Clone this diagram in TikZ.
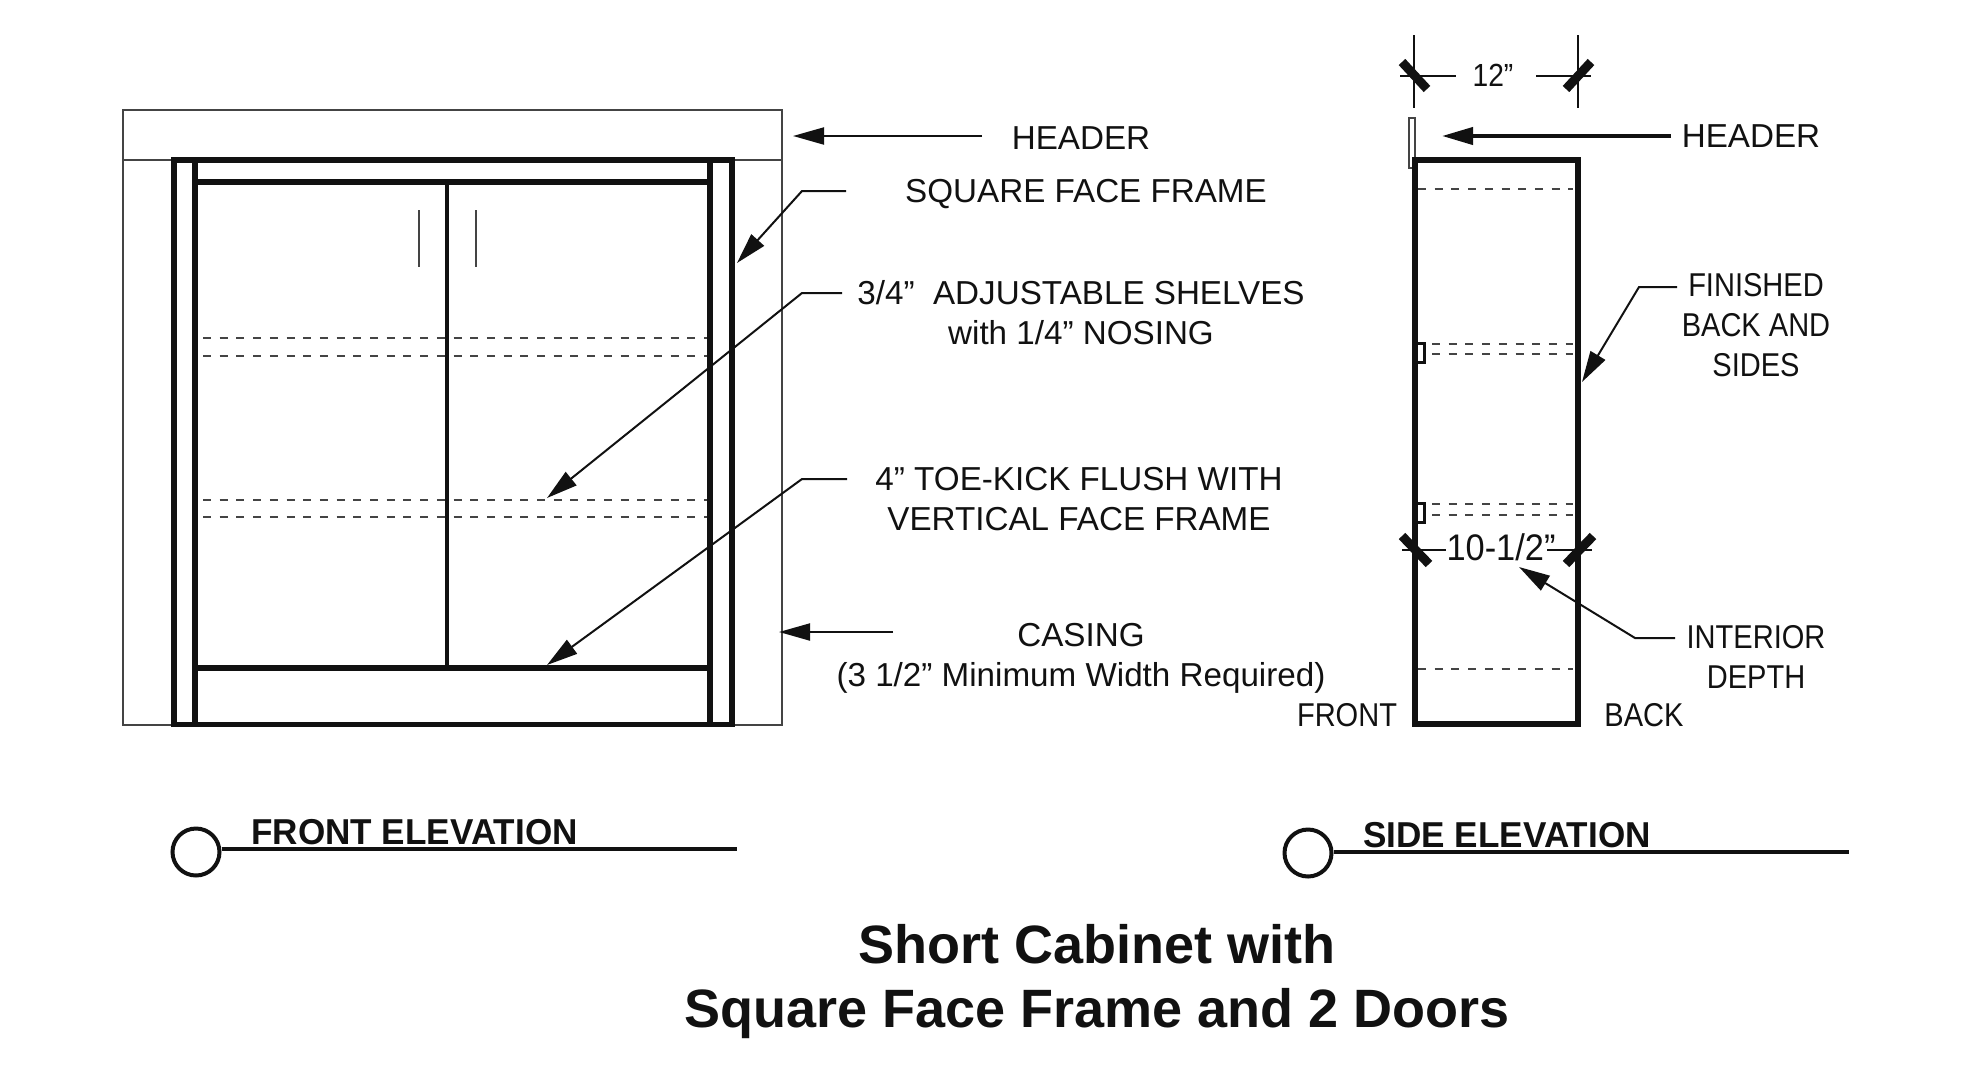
\documentclass[tikz,border=0pt]{standalone}
\usepackage{fontspec}
\setmainfont{Liberation Sans}
\newfontfamily\condfont[FakeStretch=0.88]{Liberation Sans}
\newfontfamily\dimfont[FakeStretch=0.93]{Liberation Sans}
\newfontfamily\viewfont[FakeStretch=0.975]{Liberation Sans}
\usetikzlibrary{arrows.meta}
\definecolor{ink}{HTML}{111111}
\definecolor{thin}{HTML}{444444}
\tikzset{
  wall/.style={draw=ink,line width=6pt,line cap=butt},
  wallb/.style={draw=ink,line width=5pt},
  post/.style={draw=ink,line width=4pt},
  thinline/.style={draw=thin,line width=1.4pt},
  hidden/.style={draw=thin,line width=1.3pt,dash pattern=on 8pt off 8.7pt},
  leader/.style={draw=ink,line width=2pt,-{Triangle[length=31pt,width=17pt]}},
  leaderb/.style={draw=ink,line width=4pt,-{Triangle[length=31pt,width=17pt]}},
  dimline/.style={draw=ink,line width=2.6pt},
  slash/.style={draw=ink,line width=9pt},
  lab/.style={text=ink,inner sep=0pt,align=center,font=\fontsize{33.2}{40}\selectfont},
  labn/.style={text=ink,inner sep=0pt,align=center,font=\condfont\fontsize{33}{40}\selectfont},
  vtitle/.style={text=ink,inner sep=0pt,font=\viewfont\bfseries\fontsize{36}{40}\selectfont},
  bigtitle/.style={text=ink,inner sep=0pt,align=center,font=\bfseries\fontsize{54}{64}\selectfont},
  bubble/.style={circle,draw=ink,line width=4pt,minimum size=47pt,inner sep=0pt},
  notch/.style={draw=ink,line width=3pt,fill=white},
}
\begin{document}
\begin{tikzpicture}[x=1pt,y=-1pt]
\useasboundingbox (0,0) rectangle (1965,1066);
% ---------- front elevation
\draw[thinline] (174,160) -- (123,160) (732,160) -- (782,160);
\draw[thinline] (123,160) -- (123,110) -- (782,110) -- (782,725) -- (123,725) -- cycle;
\draw[hidden] (203,338) -- (707,338);
\draw[hidden] (203,356) -- (707,356);
\draw[hidden] (203,500) -- (707,500);
\draw[hidden] (203,517) -- (707,517);
\draw[thinline] (419,210) -- (419,267) (476,210) -- (476,267);
\draw[wall] (174,157) -- (174,727);
\draw[wall] (195,160) -- (195,727);
\draw[wall] (710,160) -- (710,727);
\draw[wall] (732,157) -- (732,727);
\draw[wall] (171,160) -- (735,160);
\draw[wall] (192,182) -- (713,182);
\draw[wall] (192,668) -- (713,668);
\draw[wallb] (171,724) -- (735,724);
\draw[post] (447,182) -- (447,668);
% front labels
\node[lab] (hdrF) at (1081,138) {HEADER};
\node[lab] (sff) at (1086,194) {SQUARE FACE FRAME};
\node[lab] (shv) at (1081,313) {3/4”\ \ ADJUSTABLE SHELVES\\with 1/4” NOSING};
\node[lab] (toe) at (1079,499) {4” TOE-KICK FLUSH WITH\\VERTICAL FACE FRAME};
\node[lab] (cas) at (1081,658) {CASING\\(3 1/2” Minimum Width Required)};
\coordinate (hdrFa) at (982,136);
\coordinate (hdrFt) at (793,136);
\coordinate (sffa) at (846,191);
\coordinate (sffb) at (802,191);
\coordinate (sfft) at (737,263);
\coordinate (shva) at (842,293);
\coordinate (shvb) at (802,293);
\coordinate (shvt) at (547,498);
\coordinate (toea) at (847,479);
\coordinate (toeb) at (802,479);
\coordinate (toet) at (547,665);
\coordinate (casa) at (893,632);
\coordinate (cast) at (779,632);
\draw[leader] (hdrFa) -- (hdrFt);
\draw[leader] (sffa) -- (sffb) -- (sfft);
\draw[leader] (shva) -- (shvb) -- (shvt);
\draw[leader] (toea) -- (toeb) -- (toet);
\draw[leader] (casa) -- (cast);
% ---------- side elevation
\draw[hidden] (1418,189) -- (1573,189);
\draw[hidden] (1432,344) -- (1573,344);
\draw[hidden] (1432,354) -- (1573,354);
\draw[hidden] (1432,504) -- (1573,504);
\draw[hidden] (1432,515) -- (1573,515);
\draw[hidden] (1418,669) -- (1573,669);
\draw[thinline,fill=white] (1409,118) rectangle (1415,168);
\draw[notch] (1415,343.5) rectangle (1424.5,362.5);
\draw[notch] (1415,503.5) rectangle (1424.5,522.5);
\draw[wall] (1415,157) -- (1415,727);
\draw[wall] (1578,157) -- (1578,727);
\draw[wall] (1412,160) -- (1581,160);
\draw[wall] (1412,724) -- (1581,724);
% dimensions
\coordinate (d1a) at (1414,35);
\coordinate (d1b) at (1414,108);
\coordinate (d1c) at (1578,35);
\coordinate (d1d) at (1578,108);
\coordinate (d1e) at (1400,76);
\coordinate (d1f) at (1456,76);
\coordinate (d1g) at (1536,76);
\coordinate (d1h) at (1591,76);
\draw[dimline] (d1a) -- (d1b);
\draw[dimline] (d1c) -- (d1d);
\draw[dimline] (d1e) -- (d1f);
\draw[dimline] (d1g) -- (d1h);
\coordinate (s1a) at (1402,62);
\coordinate (s1b) at (1427,89);
\coordinate (s1c) at (1591,62);
\coordinate (s1d) at (1566,89);
\draw[slash] (s1a) -- (s1b);
\draw[slash] (s1c) -- (s1d);
\node[text=ink,inner sep=0pt,font=\condfont\fontsize{32}{40}\selectfont] (d12) at (1493,75) {12”};
\coordinate (d2a) at (1402,550);
\coordinate (d2b) at (1446,550);
\coordinate (d2c) at (1547,550);
\coordinate (d2d) at (1592,550);
\draw[dimline] (d2a) -- (d2b);
\draw[dimline] (d2c) -- (d2d);
\coordinate (s2a) at (1402,536);
\coordinate (s2b) at (1429,564);
\coordinate (s2c) at (1593,536);
\coordinate (s2d) at (1566,564);
\draw[slash] (s2a) -- (s2b);
\draw[slash] (s2c) -- (s2d);
\node[text=ink,inner sep=0pt,font=\dimfont\fontsize{37}{40}\selectfont] (d105) at (1501,547) {10-1/2”};
% side labels
\node[lab] (hdrS) at (1751,136) {HEADER};
\node[labn] (fin) at (1756,325) {FINISHED\\BACK AND\\SIDES};
\node[labn] (int) at (1756,657) {INTERIOR\\DEPTH};
\node[labn] (frt) at (1347,715) {FRONT};
\node[labn] (bck) at (1644,715) {BACK};
\coordinate (hdrSa) at (1671,136);
\coordinate (hdrSt) at (1442,136);
\coordinate (fina) at (1677,287);
\coordinate (finb) at (1639,287);
\coordinate (fint) at (1582,382);
\coordinate (inta) at (1675,638);
\coordinate (intb) at (1635,638);
\coordinate (intt) at (1519,567);
\draw[leaderb] (hdrSa) -- (hdrSt);
\draw[leader] (fina) -- (finb) -- (fint);
\draw[leader] (inta) -- (intb) -- (intt);
% ---------- view titles
\node[bubble] (bf) at (196,852) {};
\node[bubble] (bs) at (1308,853) {};
\coordinate (lf) at (737,849);
\coordinate (ls) at (1849,852);
\draw[post] (bf.east |- lf) -- (lf);
\draw[post] (bs.east |- ls) -- (ls);
\node[vtitle,anchor=center] (tf) at (414.5,832) {FRONT ELEVATION};
\node[vtitle,anchor=center] (ts) at (1507,835) {SIDE ELEVATION};
\node[bigtitle] (main) at (1097,982) {Short Cabinet with\\Square Face Frame and 2 Doors};
\end{tikzpicture}
\end{document}
